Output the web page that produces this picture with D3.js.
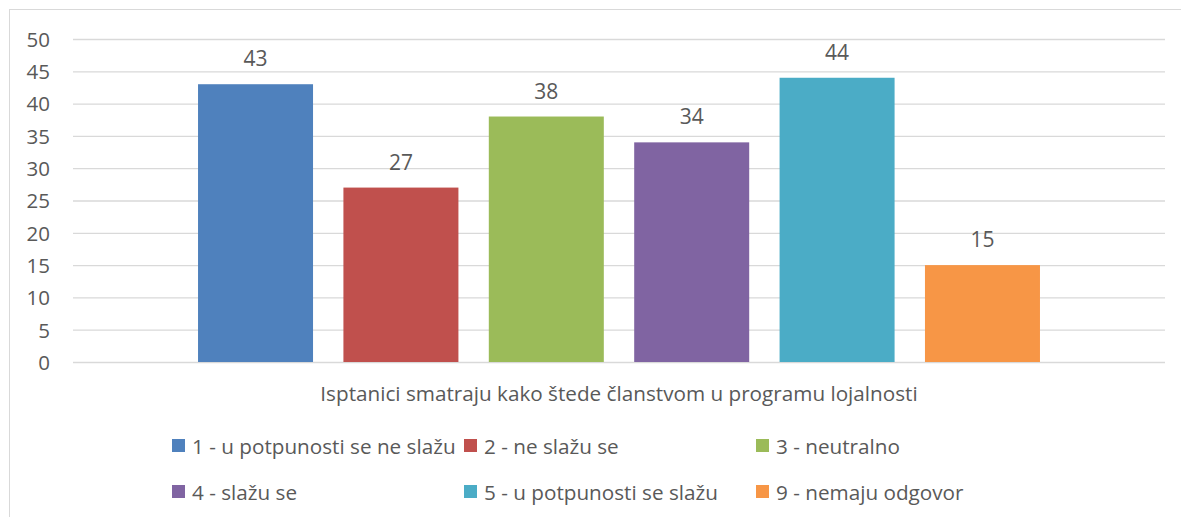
<!DOCTYPE html>
<html><head><meta charset="utf-8">
<script src="https://cdn.jsdelivr.net/npm/d3@7"></script>
<style>body{margin:0;background:#fff;} text{font-family:"Open Sans",sans-serif;fill:#595959;}</style>
</head><body><svg id="c" width="1181" height="517"></svg>
<script>
const seriesNames = ["1 - u potpunosti se ne slažu","2 - ne slažu se","3 - neutralno","4 - slažu se","5 - u potpunosti se slažu","9 - nemaju odgovor"];
const values = [43,27,38,34,44,15];
const colors = ["#4F81BD","#C0504D","#9BBB59","#8064A2","#4BACC6","#F79646"];
const yTicks = [0,5,10,15,20,25,30,35,40,45,50];
const categoryLabel = "Isptanici smatraju kako štede članstvom u programu lojalnosti";

const svg = d3.select("#c");
svg.append("rect").attr("x",9.5).attr("y",9.5).attr("width",1180).attr("height",520).attr("fill","#fff").attr("stroke","#d9d9d9");

const x0 = 73, x1 = 1165;
const y = d3.scaleLinear().domain([0,50]).range([362,39]);
const x = d3.scaleBand().domain(seriesNames).range([x0,x1]).paddingInner(0.209).paddingOuter(0.86);

const yAxis = d3.axisLeft(y).tickValues(yTicks).tickSize(-(x1-x0)).tickPadding(23);
const g = svg.append("g").attr("transform",`translate(${x0},0)`).call(yAxis);
g.select(".domain").remove();
g.selectAll(".tick line").attr("stroke","#d9d9d9").attr("stroke-width",1.3);
g.selectAll(".tick text").attr("font-size",20.5).style("fill","#595959").style("font-family","Open Sans").attr("dy","0.36em");

svg.selectAll("rect.bar").data(values).enter().append("rect").attr("class","bar")
  .attr("x",(d,i)=>x(seriesNames[i])).attr("width",x.bandwidth())
  .attr("y",d=>y(d)).attr("height",d=>y(0)-y(d)).attr("fill",(d,i)=>colors[i]);

svg.selectAll("text.lab").data(values).enter().append("text").attr("class","lab")
  .attr("x",(d,i)=>x(seriesNames[i])+x.bandwidth()/2).attr("y",d=>y(d)-18)
  .attr("text-anchor","middle").attr("font-size",21).text(d=>d);

svg.append("text").attr("x",(x0+x1)/2).attr("y",401).attr("text-anchor","middle").attr("font-size",20.7).text(categoryLabel);

const legX = [172,464,756], legY = [439,485];
const leg = svg.selectAll("g.leg").data(seriesNames).enter().append("g").attr("class","leg")
  .attr("transform",(d,i)=>`translate(${legX[i%3]},${legY[Math.floor(i/3)]})`);
leg.append("rect").attr("width",13).attr("height",13).attr("fill",(d,i)=>colors[i]);
leg.append("text").attr("x",20).attr("y",15).attr("font-size",20.7).text(d=>d);
</script></body></html>
